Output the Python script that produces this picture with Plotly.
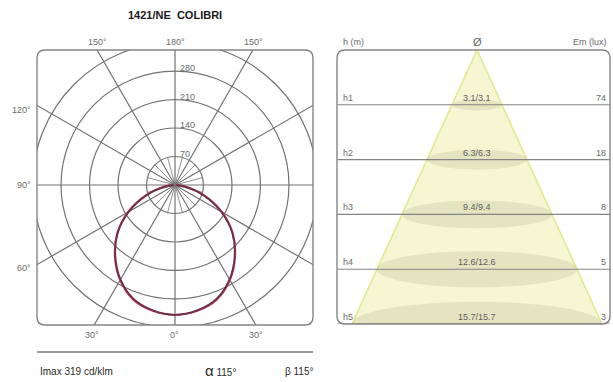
import numpy as np
import plotly.graph_objects as go

# --- data ---
title = "1421/NE  COLIBRI"
angles = [0, 10, 20, 30, 40, 50, 60, 70, 80, 90]          # degrees from nadir
c0_180 = [319, 314, 300, 270, 230, 186, 134, 79, 31, 7]    # cd/klm
c90_270 = [319, 313, 298, 268, 228, 184, 131, 75, 27, 3]   # cd/klm
ring_values = [70, 140, 210, 280, 350]
ring_labels = ["70", "140", "210", "280"]
angle_marks = ["150°", "180°", "150°", "120°", "90°", "60°", "30°", "0°", "30°"]

rows = ["h1", "h2", "h3", "h4", "h5"]
diameters = [3.1, 6.3, 9.4, 12.6, 15.7]   # m, both planes
em_lux = [74, 18, 8, 5, 3]
imax = 319
alpha = 115
beta = 115

# body margin is removed with post_script, so positions are window pixels
W, H = 613, 382
GRID = "#737373"
TXT = "#6a6a6a"
FONT = "Liberation Sans, Arial, sans-serif"


def px(x):
    return x / W


def py(y):
    return 1 - y / H


def rounded_box(x0, y0, x1, y1, r=8):
    # rounded rectangle in paper coords, pixel inputs
    rx, ry = r / W, r / H
    a, b, c, d = px(x0), py(y1), px(x1), py(y0)
    return (f"M {a+rx},{b} L {c-rx},{b} Q {c},{b} {c},{b+ry} "
            f"L {c},{d-ry} Q {c},{d} {c-rx},{d} L {a+rx},{d} "
            f"Q {a},{d} {a},{d-ry} L {a},{b+ry} Q {a},{b} {a+rx},{b} Z")


def polar_xy(vals):
    th = np.radians(np.array(angles, dtype=float))
    r = np.array(vals, dtype=float)
    x = np.concatenate([-(r * np.sin(th))[::-1], (r * np.sin(th))[1:]])
    y = np.concatenate([-(r * np.cos(th))[::-1], -(r * np.cos(th))[1:]])
    return x, y


fig = go.Figure()

# left panel: polar intensity curve drawn on cartesian axes
for vals, col, name in [(c0_180, "#c8374f", "C0-C180"), (c90_270, "#6b2f4c", "C90-C270")]:
    x, y = polar_xy(vals)
    fig.add_trace(go.Scatter(x=x, y=y, mode="lines", name=name,
                             line=dict(color=col, width=1.8, shape="spline"),
                             xaxis="x", yaxis="y", hoverinfo="skip"))

# right panel: light cone + footprints
d5 = diameters[-1]
fig.add_trace(go.Scatter(x=[0, -d5 / 2, d5 / 2, 0], y=[0, len(rows), len(rows), 0],
                         mode="lines", fill="toself", fillcolor="#f6f6d2",
                         line=dict(color="#e0ea90", width=1.6),
                         xaxis="x2", yaxis="y2", hoverinfo="skip"))

shapes = []
# polar grid
for r in ring_values:
    shapes.append(dict(type="circle", xref="x", yref="y", x0=-r, x1=r, y0=-r, y1=r,
                       line=dict(color=GRID, width=1.2), layer="below"))
for a in range(0, 360, 30):
    t = np.radians(a)
    shapes.append(dict(type="line", xref="x", yref="y", x0=0, y0=0,
                       x1=1000 * np.sin(t), y1=1000 * np.cos(t),
                       line=dict(color=GRID, width=1.2), layer="below"))
for a in range(15, 360, 30):
    t = np.radians(a)
    shapes.append(dict(type="line", xref="x", yref="y", x0=0, y0=0,
                       x1=ring_values[0] * np.sin(t), y1=ring_values[0] * np.cos(t),
                       line=dict(color=GRID, width=0.8), layer="below"))

# footprint ellipses and level lines
for k, d in enumerate(diameters, start=1):
    hh = 0.075 * k + 0.03
    shapes.append(dict(type="circle", xref="x2", yref="y2", x0=-d / 2, x1=d / 2,
                       y0=k - hh, y1=k + hh, fillcolor="rgba(185,185,155,0.3)",
                       line=dict(width=0), layer="above"))
    shapes.append(dict(type="line", xref="x2 domain", yref="y2", x0=0, x1=1, y0=k, y1=k,
                       line=dict(color="#858585", width=1.1), layer="above"))

# boxes and bottom rule
shapes.append(dict(type="path", xref="paper", yref="paper", path=rounded_box(37, 50, 313, 325),
                   line=dict(color="#858585", width=1.4)))
shapes.append(dict(type="path", xref="paper", yref="paper", path=rounded_box(337, 50, 610, 324),
                   line=dict(color="#858585", width=1.4)))
shapes.append(dict(type="line", xref="paper", yref="paper", x0=px(37), x1=px(313),
                   y0=py(352), y1=py(352), line=dict(color="#9a9a9a", width=2)))

ann = []


def label(text, x, y, size=9, color=TXT, xanchor="center", **kw):
    ann.append(dict(text=text, x=px(x), y=py(y), xref="paper", yref="paper",
                    showarrow=False, xanchor=xanchor, yanchor="middle",
                    font=dict(size=size, color=color, family=FONT), **kw))


label(f"<b>{title}</b>", 175, 15, size=11, color="#1a1a1a")

# ring values
for r, t in zip(ring_values, ring_labels):
    ann.append(dict(text=t, x=0, y=int(t), xref="x", yref="y", showarrow=False,
                    xanchor="left", yanchor="middle", xshift=3, yshift=3,
                    font=dict(size=9, color=TXT, family=FONT)))

# angle marks around the box
pos = [(97, 42, "center"), (175, 42, "center"), (253, 42, "center"),
       (33, 110, "right"), (33, 185, "right"), (33, 268, "right"),
       (92, 335, "center"), (174, 335, "center"), (256, 335, "center")]
for t, (x, y, xa) in zip(angle_marks, pos):
    label(t, x, y, xanchor=xa)

# right panel headers and rows
label("h (m)", 341, 42, xanchor="left")
label("Ø", 477, 42, size=11)
label("Em (lux)", 609, 42, xanchor="right")
for k, (h, d, e) in enumerate(zip(rows, diameters, em_lux), start=1):
    ann.append(dict(text=h, x=0, y=k, xref="x2 domain", yref="y2", showarrow=False,
                    xanchor="left", yanchor="bottom", xshift=4, yshift=0,
                    font=dict(size=9, color=TXT, family=FONT)))
    ann.append(dict(text=str(e), x=1, y=k, xref="x2 domain", yref="y2", showarrow=False,
                    xanchor="right", yanchor="bottom", xshift=-2,
                    font=dict(size=9, color=TXT, family=FONT)))
    ann.append(dict(text=f"{d}/{d}", x=0, y=k, xref="x2", yref="y2", showarrow=False,
                    xanchor="center", yanchor="bottom",
                    font=dict(size=9, color="#5e5e5e", family=FONT)))

# bottom info line
label(f"Imax {imax} cd/klm", 38, 371, size=10, color="#2a2a2a", xanchor="left")
label(f"<span style='font-size:15px'>α</span> {alpha}°", 203, 370, size=10,
      color="#2a2a2a", xanchor="left")
label(f"β {beta}°", 283, 371, size=10, color="#2a2a2a", xanchor="left")

scale = 0.407  # px per cd/klm
fig.update_layout(
    width=W, height=H, autosize=False,
    margin=dict(l=0, r=0, t=0, b=0),
    paper_bgcolor="white", plot_bgcolor="rgba(0,0,0,0)",
    showlegend=False,
    xaxis=dict(domain=[px(37), px(313)], range=[-138 / scale, 138 / scale], visible=False),
    yaxis=dict(domain=[py(325), py(50)], range=[-140 / scale, 135 / scale], visible=False),
    xaxis2=dict(domain=[px(337), px(610)], range=[-140 / 15.92, 133 / 15.92], visible=False),
    yaxis2=dict(domain=[py(324), py(50)], range=[len(rows), 0], visible=False),
    shapes=shapes, annotations=ann,
    font=dict(family=FONT),
)

fig.write_html("out.html", config={"displayModeBar": False},
               post_script="document.body.style.margin='0';")
